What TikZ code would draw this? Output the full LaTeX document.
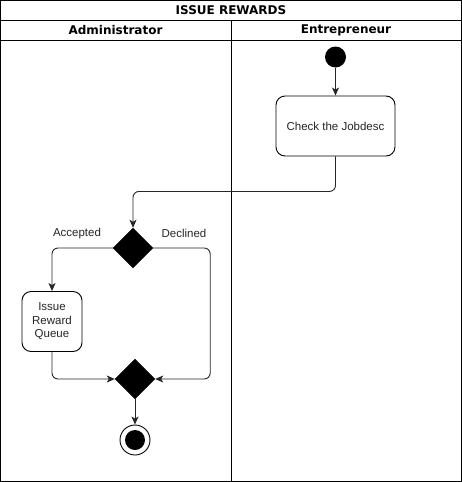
\documentclass[tikz,border=0pt]{standalone}
\usepackage{fontspec}
\setmainfont{Liberation Sans}
\newfontfamily\headfont{DejaVu Sans}
\usetikzlibrary{shapes.geometric,arrows.meta}
\begin{document}
\begin{tikzpicture}[x=1pt,y=-1pt,
  lane/.style={draw=black,line width=1pt},
  headtxt/.style={font=\headfont\bfseries\fontsize{12}{14}\selectfont},
  action/.style={draw=black,line width=0.9pt,rounded corners=9pt,fill=white,align=center,
    font=\fontsize{11.5}{13.5}\selectfont,text=black!85,inner sep=0pt},
  decision/.style={diamond,fill=black,draw=black,minimum size=40pt,inner sep=0pt},
  flow/.style={draw=black!85,line width=0.9pt,rounded corners=6pt,
    -{Stealth[length=8pt,width=7pt,inset=2pt]}},
  guard/.style={font=\fontsize{11.5}{13.5}\selectfont,text=black!85}]
  \useasboundingbox (0,0) rectangle (462,482);
  % swimlane frame
  \draw[lane] (0.5,0.5) rectangle (461.5,481.5);
  \draw[lane] (0.5,20) -- (461.5,20);
  \draw[lane] (0.5,40) -- (461.5,40);
  \draw[lane] (231,20) -- (231,481.5);
  \node[headtxt] (title) at (231,10.5) {ISSUE REWARDS};
  \node[headtxt] (admin) at (115.5,30.5) {Administrator};
  \node[headtxt] (entre) at (346,30.5) {Entrepreneur};
  % activity nodes
  \node[circle,fill=black,minimum size=21pt,inner sep=0pt] (start) at (335.5,57) {};
  \node[action,minimum width=119pt,minimum height=60pt] (check) at (335.5,126) {Check the Jobdesc};
  \node[decision] (dec) at (133,248) {};
  \node[action,minimum width=60pt,minimum height=60pt] (queue) at (52,321.5) {Issue\\Reward\\Queue};
  \node[decision] (merge) at (135,379) {};
  \node[circle,draw=black,line width=0.9pt,minimum size=30pt,inner sep=0pt] (final) at (135,440) {};
  \node[circle,fill=black,minimum size=20pt,inner sep=0pt] at (final) {};
  % connectors
  \draw[flow] (start) -- (check);
  \draw[flow] (check.south) -- ++(0,35) -| (dec.north);
  \draw[flow] (dec.west) -| (queue.north);
  \draw[flow] (dec.east) -- ++(57,0) |- (merge.east);
  \draw[flow] (queue.south) |- (merge.west);
  \draw[flow] (merge) -- (final);
  \node[guard] (acc) at (77,233.5) {Accepted};
  \node[guard] (dcl) at (184,233.5) {Declined};
\end{tikzpicture}
\end{document}
